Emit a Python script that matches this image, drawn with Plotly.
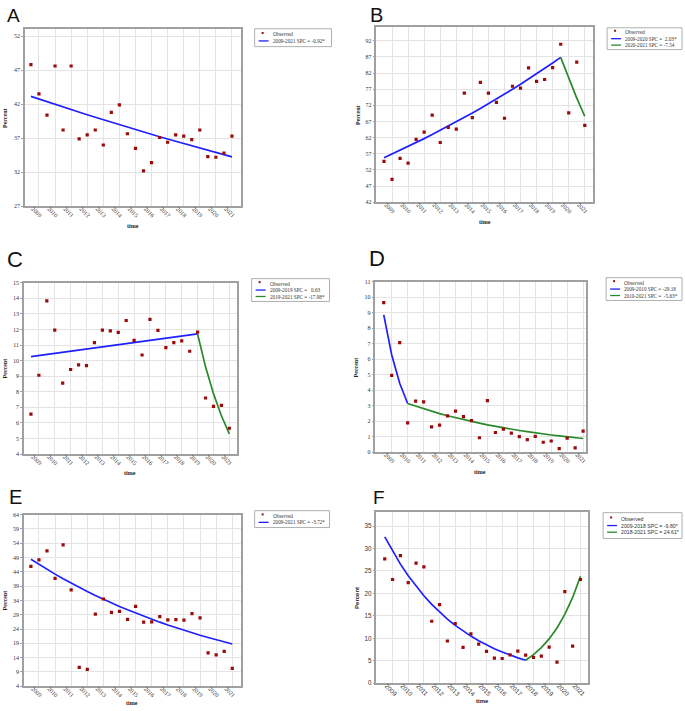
import plotly.graph_objects as go

W, H = 685, 711

# ---------------- data ----------------
time_points = [2008.5, 2009.0, 2009.5, 2010.0, 2010.5, 2011.0, 2011.5, 2012.0, 2012.5,
               2013.0, 2013.5, 2014.0, 2014.5, 2015.0, 2015.5, 2016.0, 2016.5, 2017.0,
               2017.5, 2018.0, 2018.5, 2019.0, 2019.5, 2020.0, 2020.5, 2021.0]
year_ticks = [2009, 2010, 2011, 2012, 2013, 2014, 2015, 2016, 2017, 2018, 2019, 2020, 2021]
year_labels = ["2009", "2010", "2011", "2012", "2013", "2014", "2015", "2016", "2017",
               "2018", "2019", "2020", "2021"]

obs_A = [47.8, 43.5, 40.4, 47.6, 38.2, 47.6, 36.9, 37.5, 38.2, 36.0, 40.8, 41.9, 37.65,
         35.5, 32.2, 33.4, 37.1, 36.4, 37.5, 37.3, 36.8, 38.2, 34.3, 34.2, 34.8, 37.3]
fit_A1 = [43.15, 42.75, 42.36, 41.97, 41.58, 41.20, 40.82, 40.45, 40.08, 39.71, 39.34,
          38.98, 38.62, 38.27, 37.91, 37.56, 37.22, 36.88, 36.54, 36.20, 35.87, 35.54,
          35.21, 34.89, 34.57, 34.25]
seg_A = ["2009-2021 SPC = -0.92*"]

obs_B = [54.65, 49.1, 55.6, 54.1, 61.5, 63.7, 69.0, 60.5, 65.2, 64.65, 75.8, 68.2, 79.1,
         75.8, 72.9, 68.0, 77.9, 77.3, 83.6, 79.4, 80.0, 83.7, 90.9, 69.7, 85.4, 65.8]
fit_B1 = [55.80, 56.93, 58.09, 59.27, 60.47, 61.70, 62.95, 64.23, 65.53, 66.86, 68.22,
          69.60, 71.02, 72.46, 73.93, 75.43, 76.96, 78.52, 80.12, 81.75, 83.41, 85.10, 86.83]
fit_B2 = [86.83, 80.28, 74.23, 68.63]
seg_B = ["2009-2020 SPC =  2.03*", "2020-2021 SPC = -7.54"]

obs_C = [6.57, 9.06, 13.83, 11.96, 8.55, 9.43, 9.72, 9.68, 11.15, 11.96, 11.91, 11.81,
         12.57, 11.30, 10.36, 12.64, 11.94, 10.83, 11.15, 11.26, 10.60, 11.83, 7.60,
         7.06, 7.13, 5.66]
fit_C1 = [10.26, 10.33, 10.39, 10.46, 10.52, 10.59, 10.65, 10.72, 10.79, 10.86, 10.93,
          10.99, 11.06, 11.13, 11.20, 11.27, 11.35, 11.42, 11.49, 11.56, 11.63, 11.71]
fit_C2 = [11.71, 9.60, 7.88, 6.46, 5.30]
seg_C = ["2009-2019 SPC =   0.63", "2019-2021 SPC = -17.98*"]

obs_D = [9.64, 4.95, 7.07, 1.89, 3.29, 3.25, 1.63, 1.74, 2.34, 2.65, 2.29, 2.04, 0.93,
         3.33, 1.27, 1.49, 1.23, 1.00, 0.81, 1.02, 0.64, 0.72, 0.23, 0.91, 0.28, 1.36]
fit_D1 = [8.85, 6.27, 4.44, 3.14]
fit_D2 = [3.14, 2.97, 2.80, 2.64, 2.49, 2.35, 2.22, 2.10, 1.98, 1.87, 1.76, 1.66, 1.57,
          1.48, 1.40, 1.32, 1.24, 1.17, 1.11, 1.05, 0.99, 0.93, 0.88]
seg_D = ["2009-2010 SPC = -29.18", "2010-2021 SPC =  -5.63*"]

obs_E = [45.9, 48.2, 51.3, 41.7, 53.4, 37.7, 10.6, 9.9, 29.2, 34.5, 29.8, 30.2, 27.4,
         31.9, 26.4, 26.5, 28.3, 27.2, 27.3, 27.1, 29.4, 27.9, 15.65, 14.96, 16.2, 10.2]
fit_E1 = [48.40, 46.60, 44.87, 43.20, 41.59, 40.04, 38.55, 37.12, 35.74, 34.41, 33.13,
          31.90, 30.71, 29.57, 28.47, 27.41, 26.39, 25.41, 24.46, 23.55, 22.67, 21.83,
          21.02, 20.24, 19.49, 18.76]
seg_E = ["2009-2021 SPC = -3.72*"]

obs_F = [27.7, 23.1, 28.4, 22.4, 26.75, 25.9, 13.8, 17.5, 9.4, 13.3, 8.0, 11.0, 8.7, 7.1,
         5.6, 5.5, 6.3, 7.15, 6.26, 5.75, 6.04, 8.03, 4.7, 20.4, 8.25, 23.1]
fit_F1 = [32.60, 29.41, 26.52, 23.92, 21.58, 19.47, 17.56, 15.84, 14.29, 12.89, 11.63,
          10.49, 9.46, 8.53, 7.69, 6.94, 6.26, 5.65, 5.10]
fit_F2 = [5.10, 6.36, 7.92, 9.87, 12.30, 15.32, 19.09, 23.79]
seg_F = ["2009-2018 SPC = -9.80*", "2018-2021 SPC = 24.61*"]

panel_letters = ["A", "B", "C", "D", "E", "F"]

# ---------------- style / layout ----------------
RED = "#9b0a0a"
BLUE = "#2020ff"
GREEN = "#2a8a2a"
GRID = "#e4e4e4"
FRAME = "#a0a0a0"
SERIF = "Liberation Serif, Times New Roman, serif"
SANS = "Liberation Sans, Arial, sans-serif"

panels = [
    dict(obs=obs_A, fits=[fit_A1], segs=seg_A, box=(25, 26, 241, 205),
         xr=[2008.13, 2021.54], yr=[27, 53.07], t0=27, dt=5, font=SERIF,
         letter=(5, 13, 19), ytitle=(4.5, 115.5), xtitle=(133, 225),
         legend=(255, 26, 332, 44)),
    dict(obs=obs_B, fits=[fit_B1, fit_B2], segs=seg_B, box=(377, 24, 594, 201),
         xr=[2008.03, 2021.52], yr=[42, 96.3], t0=42, dt=5, font=SERIF,
         letter=(369, 12, 20), ytitle=(358, 112.5), xtitle=(485.5, 221),
         legend=(608, 25, 683, 47)),
    dict(obs=obs_C, fits=[fit_C1, fit_C2], segs=seg_C, box=(24, 282, 237, 455),
         xr=[2008.06, 2021.46], yr=[4, 15], t0=4, dt=1, font=SERIF,
         letter=(5, 258.5, 22), ytitle=(5, 368.5), xtitle=(130.5, 474),
         legend=(252, 278, 330, 301)),
    dict(obs=obs_D, fits=[fit_D1, fit_D2], segs=seg_D, box=(376, 281, 587, 453),
         xr=[2007.98, 2021.19], yr=[0, 11], t0=0, dt=1, font=SERIF,
         letter=(368, 258, 22), ytitle=(356, 367), xtitle=(481, 473),
         legend=(607, 277, 683, 300)),
    dict(obs=obs_E, fits=[fit_E1], segs=seg_E, box=(24, 516, 241, 689),
         xr=[2008.07, 2021.52], yr=[4, 64], t0=4, dt=5, font=SERIF,
         letter=(7, 498, 20), ytitle=(5, 602.5), xtitle=(132.5, 706),
         legend=(255, 512, 330, 529)),
    dict(obs=obs_F, fits=[fit_F1, fit_F2], segs=seg_F, box=(377, 513, 589, 686),
         xr=[2007.97, 2021.49], yr=[0, 38.2], t0=0, dt=5, font=SANS,
         letter=(372, 498.5, 19), ytitle=(358, 599.5), xtitle=(483, 704),
         legend=(604, 514, 683, 540)),
]


def px(x):
    return x / W


def py(y):
    return 1 - y / H


fig = go.Figure()
layout = dict(width=W, height=H, margin=dict(l=0, r=0, t=0, b=0),
              paper_bgcolor="white", plot_bgcolor="white", showlegend=False)
shapes = []
annotations = []
seg_colors = [BLUE, GREEN]

for i, p in enumerate(panels):
    n = i + 1
    xa = "x" if n == 1 else f"x{n}"
    ya = "y" if n == 1 else f"y{n}"
    x0, y0, x1, y1 = p["box"]
    tickfont = dict(family=p["font"], size=6 if p["font"] == SERIF else 6.3, color="#333")
    layout["xaxis" if n == 1 else f"xaxis{n}"] = dict(
        domain=[px(x0), px(x1)], range=p["xr"], anchor=ya,
        tickmode="array", tickvals=year_ticks, ticktext=year_labels, tickangle=45,
        ticklabelshift=-6, ticklabelstandoff=-5,
        showgrid=True, gridcolor=GRID, gridwidth=1, zeroline=False,
        showline=True, linecolor=FRAME, linewidth=1.5, mirror=True,
        ticks="", tickfont=tickfont)
    layout["yaxis" if n == 1 else f"yaxis{n}"] = dict(
        domain=[py(y1), py(y0)], range=p["yr"], anchor=xa,
        tick0=p["t0"], dtick=p["dt"],
        showgrid=True, gridcolor=GRID, gridwidth=1, zeroline=False,
        showline=True, linecolor=FRAME, linewidth=1.5, mirror=True,
        ticks="outside", ticklen=2, tickcolor=FRAME, tickfont=tickfont)

    # fitted segments
    start = 0
    for k, fit in enumerate(p["fits"]):
        xs = time_points[start:start + len(fit)]
        fig.add_trace(go.Scatter(x=xs, y=fit, mode="lines", xaxis=xa, yaxis=ya,
                                 line=dict(color=seg_colors[k], width=1.7),
                                 name=p["segs"][k], hoverinfo="skip"))
        start = start + len(fit) - 1
    # observed
    fig.add_trace(go.Scatter(x=time_points, y=p["obs"], mode="markers", xaxis=xa, yaxis=ya,
                             marker=dict(color=RED, size=3.2, symbol="square"),
                             name="Observed"))

    # letter
    lx, ly, ls = p["letter"]
    annotations.append(dict(x=px(lx), y=py(ly), xref="paper", yref="paper",
                            xanchor="left", yanchor="middle", showarrow=False,
                            text=panel_letters[i],
                            font=dict(family=SANS, size=ls, color="#111")))
    # axis titles
    tf = dict(family=p["font"], size=6, color="#222")
    annotations.append(dict(x=px(p["ytitle"][0]), y=py(p["ytitle"][1]), xref="paper",
                            yref="paper", xanchor="center", yanchor="middle",
                            showarrow=False, text="<b>Percent</b>", textangle=-90, font=tf))
    annotations.append(dict(x=px(p["xtitle"][0]), y=py(p["xtitle"][1]), xref="paper",
                            yref="paper", xanchor="center", yanchor="middle",
                            showarrow=False, text="<b>time</b>", font=tf))

    # legend box (drawn manually for compact size)
    bx0, by0, bx1, by1 = p["legend"]
    shapes.append(dict(type="rect", xref="paper", yref="paper",
                       x0=px(bx0), x1=px(bx1), y0=py(by1), y1=py(by0),
                       line=dict(color="#b0b0b0", width=1), fillcolor="white"))
    entries = [("Observed", None)] + [(s, seg_colors[k]) for k, s in enumerate(p["segs"])]
    nrow = len(entries)
    sp = 6.5 if p["font"] == SERIF else 6.7
    first = (by0 + by1) / 2 - (nrow - 1) * sp / 2
    lf = dict(family=p["font"], size=5.2, color="#333")
    for r, (txt, col) in enumerate(entries):
        ry = first + r * sp
        if col is None:
            shapes.append(dict(type="rect", xref="paper", yref="paper",
                               x0=px(bx0 + 7), x1=px(bx0 + 9), y0=py(ry - 2.5), y1=py(ry - 0.5),
                               line=dict(width=0), fillcolor=RED))
        else:
            shapes.append(dict(type="line", xref="paper", yref="paper",
                               x0=px(bx0 + 4), x1=px(bx0 + 14), y0=py(ry), y1=py(ry),
                               line=dict(color=col, width=1.3)))
        annotations.append(dict(x=px(bx0 + 16), y=py(ry), xref="paper", yref="paper",
                                xanchor="left", yanchor="middle", showarrow=False,
                                text=txt, font=lf))

layout["shapes"] = shapes
layout["annotations"] = annotations
fig.update_layout(**layout)
fig.write_html("out.html", config={"displayModeBar": False},
               post_script="document.body.style.margin='0';"
                           "document.body.style.padding='0';"
                           "document.body.style.overflow='hidden';")
